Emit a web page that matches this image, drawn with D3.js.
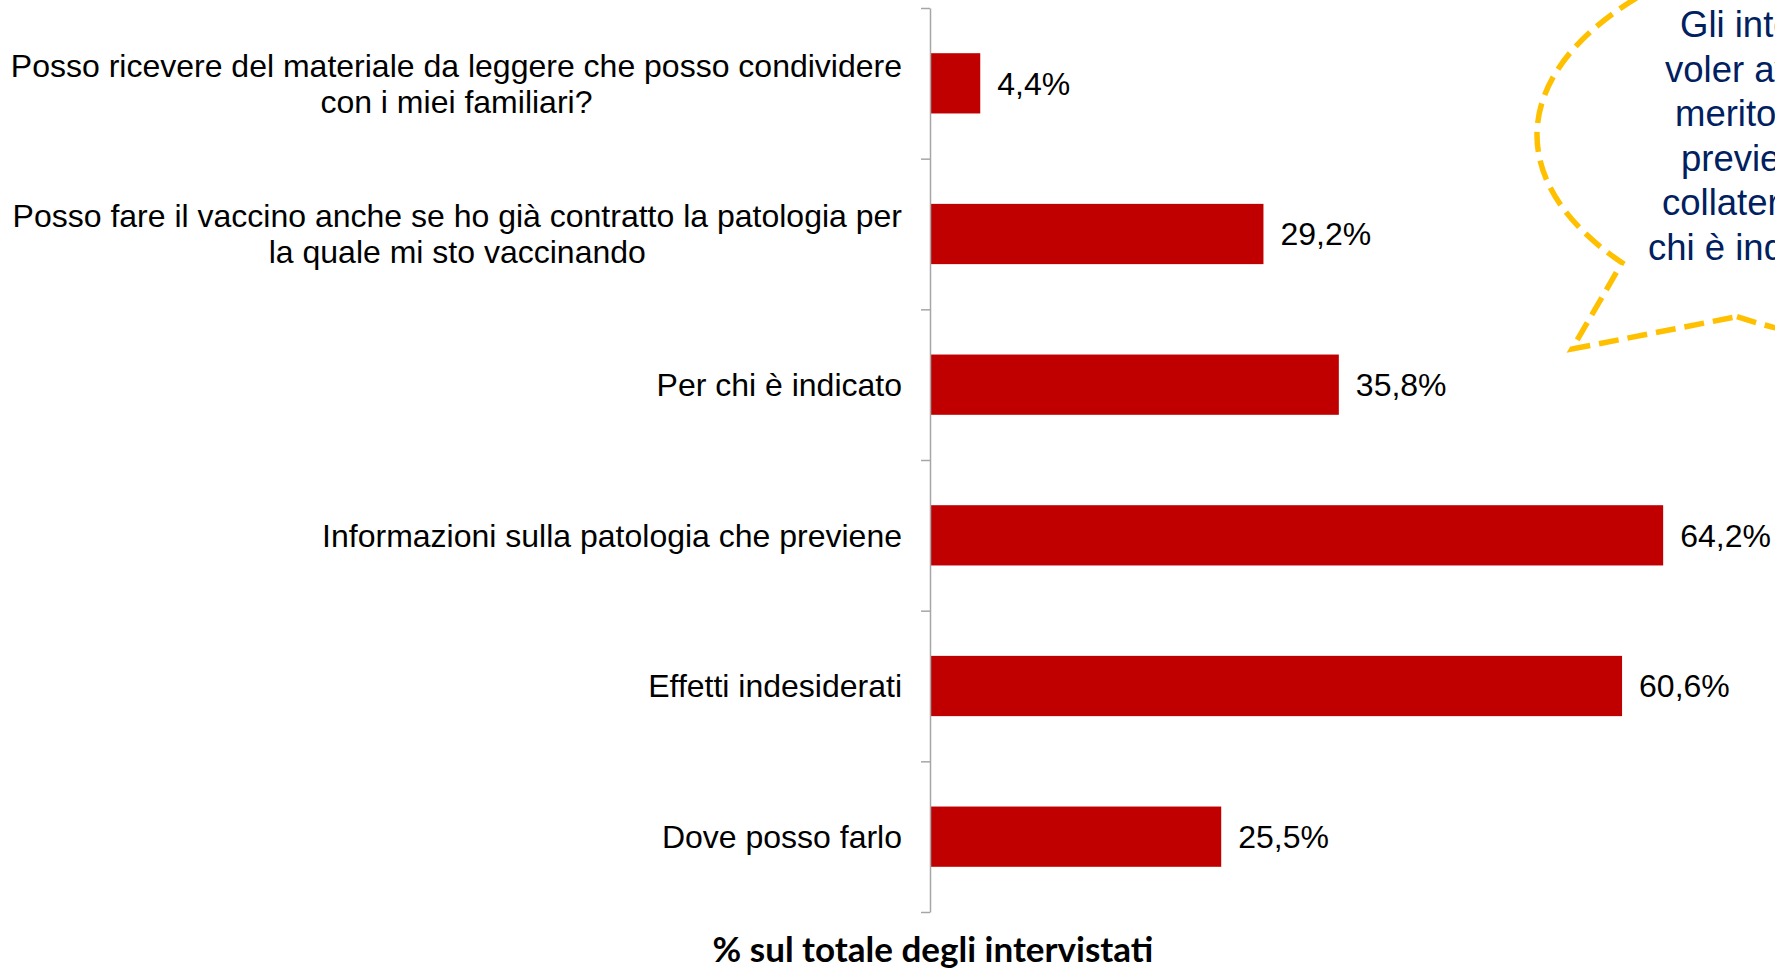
<!DOCTYPE html>
<html>
<head>
<meta charset="utf-8">
<script src="https://cdn.jsdelivr.net/npm/d3@7"></script>
<style>
  html, body { margin: 0; padding: 0; background: #fff; overflow: hidden; }
  svg { display: block; }
</style>
</head>
<body>
<div id="chart"></div>
<script>
// categories (each one split into its printed lines)
const categories = [
  ["Posso ricevere del materiale da leggere che posso condividere", "con i miei familiari?"],
  ["Posso fare il vaccino anche se ho già contratto la patologia per", "la quale mi sto vaccinando"],
  ["Per chi è indicato"],
  ["Informazioni sulla patologia che previene"],
  ["Effetti indesiderati"],
  ["Dove posso farlo"]
];
const values = [4.4, 29.2, 35.8, 64.2, 60.6, 25.5];
const axisTitle = "% sul totale degli intervistati";
// callout text, cut by the right edge of the slide
const calloutLines = [
  "Gli intervistati dichiarano di",
  "voler avere informazioni in",
  "merito alla patologia che",
  "previene, agli effetti",
  "collaterali e sapere per",
  "chi è indicato il vaccino"
];

const width = 1775, height = 971;

const svg = d3.select("#chart").append("svg")
  .attr("width", width)
  .attr("height", height);

const axisX = 930;
const plotTop = 8, plotBottom = 912;

let y = d3.scaleBand()
  .domain(d3.range(categories.length))
  .range([plotTop, plotBottom])
  .paddingInner(0.6)
  .paddingOuter(0.3);

let x = d3.scaleLinear()
  .domain([0, 70])
  .range([axisX, axisX + 70 * 11.42]);

// bars
svg.append("g").selectAll("rect")
  .data(values)
  .enter()
  .append("rect")
  .attr("x", x(0))
  .attr("y", (d, i) => y(i))
  .attr("width", d => x(d) - x(0))
  .attr("height", y.bandwidth())
  .attr("fill", "#c00000");

// vertical axis with ticks between the categories
let yEdge = d3.scaleLinear().domain([0, categories.length]).range([plotTop, plotBottom]);
let axis = svg.append("g")
  .attr("transform", "translate(" + axisX + ",0)")
  .call(d3.axisLeft(yEdge).ticks(categories.length).tickFormat("").tickSize(9).tickSizeOuter(0));
axis.select(".domain").attr("stroke", "#a6a6a6").attr("stroke-width", 1.5);
axis.selectAll(".tick line").attr("stroke", "#a6a6a6").attr("stroke-width", 1.5);

// category labels: block right-aligned to the axis, lines centred inside the block
const lineH = 36;
const labelRight = 902;
let labels = svg.append("g")
  .style("font-family", "'Liberation Sans', Arial, sans-serif")
  .style("font-size", "32px")
  .attr("fill", "#000");

labels.selectAll("text.cat")
  .data(categories)
  .enter()
  .append("text")
  .attr("class", "cat")
  .attr("text-anchor", "middle")
  .each(function (lines, i) {
    let t = d3.select(this);
    let tspans = lines.map(function (line, j) {
      return t.append("tspan")
        .attr("y", y(i) + y.bandwidth() / 2 + (j - (lines.length - 1) / 2) * lineH)
        .attr("dy", "0.35em")
        .text(line);
    });
    let w = d3.max(tspans, s => s.node().getComputedTextLength());
    tspans.forEach(s => s.attr("x", labelRight - w / 2));
  });

// value labels
labels.selectAll(".val")
  .data(values)
  .enter()
  .append("text")
  .attr("class", "val")
  .attr("x", d => x(d) + 17)
  .attr("y", (d, i) => y(i) + y.bandwidth() / 2)
  .attr("dy", "0.35em")
  .text(d => d3.format(".1f")(d).replace(".", ",") + "%");

// axis title
svg.append("text")
  .attr("x", 933)
  .attr("y", 962)
  .attr("text-anchor", "middle")
  .style("font-family", "Lato, 'Open Sans', sans-serif")
  .style("font-weight", "bold")
  .style("font-size", "35px")
  .attr("fill", "#000")
  .text(axisTitle);

// dashed speech bubble (only its left part is on the slide)
const bub = { cx: 1990, cy: 135, rx: 453, ry: 219 };
function onEllipseBottom(px) {
  let k = (px - bub.cx) / bub.rx;
  return [px, bub.cy + bub.ry * Math.sqrt(1 - k * k)];
}
const tailA = onEllipseBottom(1622), tailB = onEllipseBottom(1737), tailTip = [1572, 349];
svg.append("path")
  .attr("d", "M" + tailB + " A" + bub.rx + "," + bub.ry + " 0 1 0 " + tailA + " L" + tailTip + " Z")
  .attr("fill", "none")
  .attr("stroke", "#ffc000")
  .attr("stroke-width", 5.5)
  .attr("stroke-dasharray", "20 9");

const calloutStart = [1680, 1665, 1675, 1681, 1662, 1648];
svg.append("g")
  .style("font-family", "'Liberation Sans', Arial, sans-serif")
  .style("font-size", "36.5px")
  .attr("fill", "#002060")
  .selectAll("text")
  .data(calloutLines)
  .enter()
  .append("text")
  .attr("x", (d, i) => calloutStart[i])
  .attr("y", (d, i) => 37 + i * 44.6)
  .text(d => d);
</script>
</body>
</html>
